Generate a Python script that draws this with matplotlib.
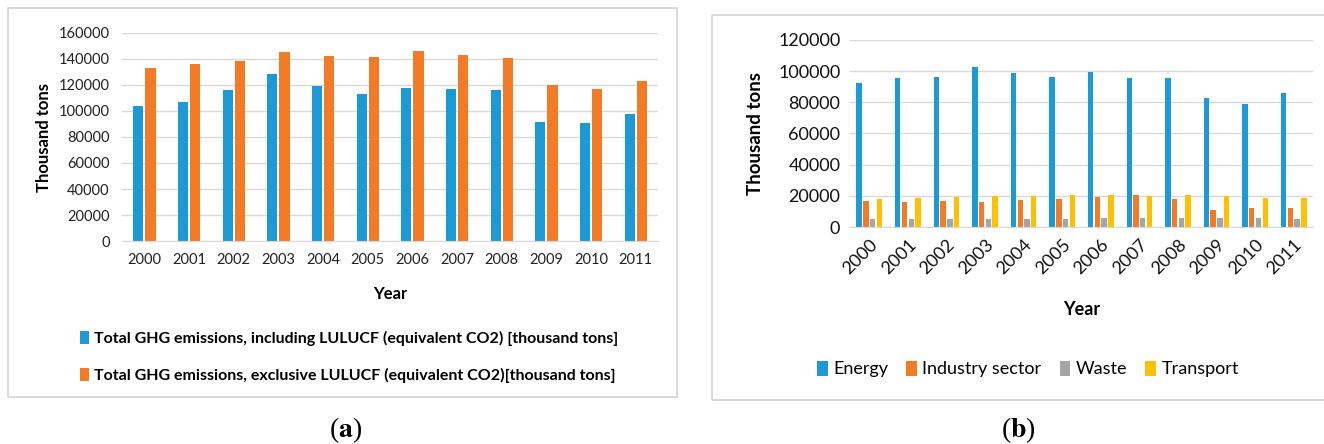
import numpy as np
import matplotlib
matplotlib.use('Agg')
import matplotlib.pyplot as plt
from matplotlib.patches import Rectangle

plt.rcParams['font.family'] = ['Lato', 'DejaVu Sans']
plt.rcParams['mathtext.fontset'] = 'stix'

years = ['2000', '2001', '2002', '2003', '2004', '2005',
         '2006', '2007', '2008', '2009', '2010', '2011']

# panel (a)
ghg_incl = [104000, 107000, 115800, 128700, 119400, 113300,
            117900, 117100, 116100, 91500, 90400, 97900]
ghg_excl = [133300, 136100, 138100, 145300, 142200, 141500,
            145800, 142700, 140400, 120200, 116600, 123300]

# panel (b)
energy = [92600, 95400, 96300, 102500, 98700, 96300,
          99500, 95600, 95400, 82600, 79200, 86000]
industry = [16700, 15800, 16700, 16200, 17500, 18100,
            19000, 20500, 17700, 11100, 12200, 12400]
waste = [5000, 5000, 5000, 5200, 5200, 5400,
         5600, 5500, 5500, 5800, 5800, 5200]
transport = [18100, 18800, 19400, 19800, 19800, 20700,
             20700, 19800, 20500, 20100, 18600, 18800]

blue = '#1c9ad6'
orange = '#f47b25'
gray = '#a5a5a5'
yellow = '#ffc000'
grid_col = '#d9d9d9'

W, H = 1324, 444
fig = plt.figure(figsize=(W / 100, H / 100), dpi=100)

def px_box(x0, y0, x1, y1):
    # pixel rect (top-left origin) -> figure fraction
    return [x0 / W, 1 - y1 / H, (x1 - x0) / W, (y1 - y0) / H]

# panel frames
for (x0, y0, x1, y1) in [(8, 8, 677, 397), (712, 15, 1330, 400)]:
    r = Rectangle((x0 / W, 1 - y1 / H), (x1 - x0) / W, (y1 - y0) / H,
                  transform=fig.transFigure, fill=False,
                  edgecolor='#d4d4d4', linewidth=1.2)
    fig.patches.append(r)

def style(ax):
    for s in ['top', 'right', 'left']:
        ax.spines[s].set_visible(False)
    ax.spines['bottom'].set_color(grid_col)
    ax.grid(axis='y', color=grid_col, linewidth=1)
    ax.set_axisbelow(True)
    ax.tick_params(length=0)

# ---- (a)
ax1 = fig.add_axes(px_box(122, 33, 658, 241))
x = np.arange(len(years))
w = 0.23
ax1.bar(x - w / 2 - 0.02, ghg_incl, w, color=blue,
        label='Total GHG emissions, including LULUCF (equivalent CO2) [thousand tons]')
ax1.bar(x + w / 2 + 0.02, ghg_excl, w, color=orange,
        label='Total GHG emissions, exclusive LULUCF (equivalent CO2)[thousand tons]')
ax1.set_xlim(-0.5, len(years) - 0.5)
ax1.set_ylim(0, 160000)
ax1.set_yticks(range(0, 160001, 20000))
ax1.set_xticks(x)
ax1.set_xticklabels(years)
ax1.tick_params(axis='both', labelsize=10.5, colors='#222222', pad=9)
style(ax1)
ax1.set_ylabel('Thousand tons', fontsize=12, fontweight='bold', labelpad=5)
ax1.set_xlabel('Year', fontsize=12, fontweight='bold', labelpad=13)
h, l = ax1.get_legend_handles_labels()
fig.legend(h, l, loc='center left', bbox_to_anchor=(66 / W, 1 - 357 / H),
           frameon=False, handlelength=0.55, handleheight=0.9,
           handletextpad=0.3, labelspacing=1.35, prop={'weight': 'bold', 'size': 11.5})

# ---- (b)
ax2 = fig.add_axes(px_box(850, 40, 1313, 227))
w2 = 0.14
g = 0.035
offs = [-1.5 * (w2 + g), -0.5 * (w2 + g), 0.5 * (w2 + g), 1.5 * (w2 + g)]
ax2.bar(x + offs[0], energy, w2, color=blue, label='Energy')
ax2.bar(x + offs[1], industry, w2, color=orange, label='Industry sector')
ax2.bar(x + offs[2], waste, w2, color=gray, label='Waste')
ax2.bar(x + offs[3], transport, w2, color=yellow, label='Transport')
ax2.set_xlim(-0.5, len(years) - 0.5)
ax2.set_ylim(0, 120000)
ax2.set_yticks(range(0, 120001, 20000))
ax2.set_xticks(x)
ax2.set_xticklabels(years, rotation=45, ha='right', rotation_mode='anchor')
ax2.tick_params(axis='both', labelsize=13, colors='#111111', pad=7)
style(ax2)
ax2.set_ylabel('Thousand tons', fontsize=13.5, fontweight='bold', labelpad=10)
ax2.set_xlabel('Year', fontsize=13, fontweight='bold', labelpad=17)
h, l = ax2.get_legend_handles_labels()
fig.legend(h, l, loc='center', bbox_to_anchor=(1028 / W, 1 - 369 / H), ncol=4,
           frameon=False, fontsize=13, handlelength=0.6, handleheight=0.9,
           handletextpad=0.3, columnspacing=1.0)

# captions
fig.text(346 / W, 1 - 430 / H, r'($\mathbf{a}$)', fontsize=20,
         family='Liberation Serif', ha='center', va='center')
fig.text(1018 / W, 1 - 430 / H, r'($\mathbf{b}$)', fontsize=20,
         family='Liberation Serif', ha='center', va='center')

fig.savefig('out.png', dpi=100)
